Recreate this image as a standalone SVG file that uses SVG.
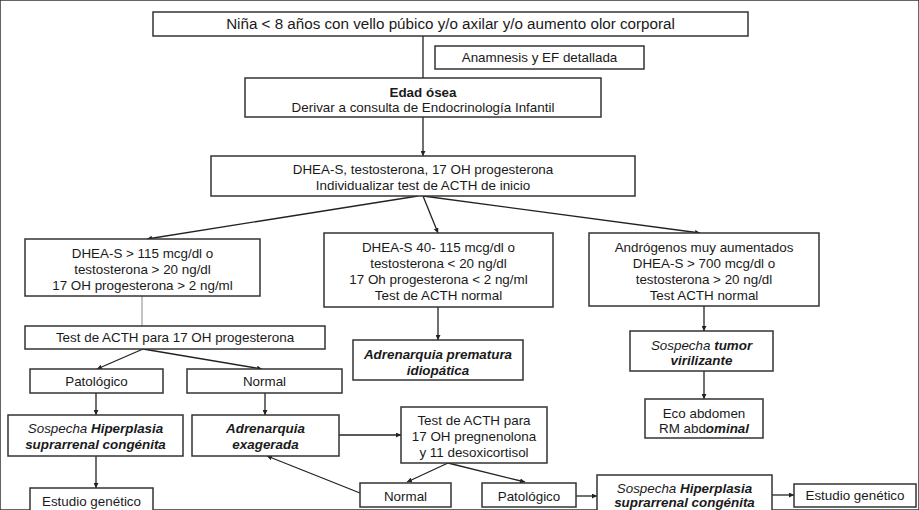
<svg xmlns="http://www.w3.org/2000/svg" width="919" height="510" viewBox="0 0 919 510">
<style>
rect{fill:#fff;stroke:#333;stroke-width:1.5}
text{font-family:"Liberation Sans",Arial,sans-serif;font-size:13.4px;fill:#1a1a1a;text-anchor:middle}
.big{font-size:15.2px}
.b{font-weight:bold}
.i{font-style:italic}
.bi{font-weight:bold;font-style:italic}
.c line{stroke:#222;stroke-width:1.3}
.c line.a{marker-end:url(#ah)}
.c line.g{stroke:#888;stroke-width:1}
</style>
<defs>
<marker id="ah" viewBox="0 0 10 10" refX="10" refY="5" markerWidth="5" markerHeight="5" markerUnits="userSpaceOnUse" orient="auto">
<path d="M0,0 L10,5 L0,10 z" fill="#222"/>
</marker>
</defs>
<rect width="919" height="510" fill="#fff" stroke="none"/>
<g class="c" id="connectors">
<line x1="423" y1="36" x2="423" y2="78"/>
<line class="a" x1="423" y1="117" x2="423" y2="156"/>
<line class="a" x1="418" y1="196" x2="147" y2="239"/>
<line class="a" x1="423" y1="196" x2="438" y2="233"/>
<line class="a" x1="423" y1="196" x2="700" y2="233"/>
<line class="g" x1="142" y1="296" x2="142" y2="326"/>
<line class="a" x1="143" y1="349" x2="97" y2="369"/>
<line class="a" x1="143" y1="349" x2="262" y2="369"/>
<line class="a" x1="96" y1="393" x2="96" y2="415"/>
<line class="a" x1="265" y1="393" x2="265" y2="415"/>
<line class="a" x1="96" y1="456" x2="96" y2="488"/>
<line class="a" x1="438" y1="307" x2="438" y2="340"/>
<line class="a" x1="704" y1="306" x2="704" y2="331"/>
<line class="a" x1="704" y1="371" x2="704" y2="399"/>
<line class="a" x1="339" y1="435" x2="401" y2="435"/>
<line class="a" x1="448" y1="463" x2="407" y2="482"/>
<line class="a" x1="448" y1="463" x2="525" y2="482"/>
<line class="a" x1="360" y1="493" x2="267" y2="456"/>
<line class="a" x1="576" y1="496" x2="597" y2="496"/>
<line class="a" x1="772" y1="495" x2="794" y2="495"/>
</g>
<g id="n-top"><rect x="153" y="12" width="595" height="24"/><text x="450.5" y="29" class="big">Niña &lt; 8 años con vello púbico y/o axilar y/o aumento olor corporal</text></g>
<g id="n-anamnesis"><rect x="435" y="46" width="209" height="23"/><text x="539.5" y="62">Anamnesis y EF detallada</text></g>
<g id="n-edad"><rect x="245" y="78" width="356" height="39"/><text x="423" y="97" class="b">Edad ósea</text><text x="423" y="112">Derivar a consulta de Endocrinología Infantil</text></g>
<g id="n-dhea"><rect x="211" y="156" width="424" height="40"/><text x="423" y="174">DHEA-S, testosterona, 17 OH progesterona</text><text x="423" y="190">Individualizar test de ACTH de inicio</text></g>
<g id="n-left"><rect x="25" y="239" width="235" height="57"/><text x="142.5" y="257.5">DHEA-S &gt; 115 mcg/dl o</text><text x="142.5" y="273.5">testosterona &gt; 20 ng/dl</text><text x="142.5" y="289.5">17 OH progesterona &gt; 2 ng/ml</text></g>
<g id="n-mid"><rect x="324" y="233" width="229" height="74"/><text x="438.5" y="252">DHEA-S 40- 115 mcg/dl o</text><text x="438.5" y="268">testosterona &lt; 20 ng/dl</text><text x="438.5" y="284">17 Oh progesterona &lt; 2 ng/ml</text><text x="438.5" y="300">Test de ACTH normal</text></g>
<g id="n-right"><rect x="589" y="233" width="230" height="73"/><text x="704" y="252">Andrógenos muy aumentados</text><text x="704" y="268">DHEA-S &gt; 700 mcg/dl o</text><text x="704" y="284">testosterona &gt; 20 ng/dl</text><text x="704" y="300">Test ACTH normal</text></g>
<g id="n-test17oh"><rect x="25" y="326" width="300" height="23"/><text x="175" y="342">Test de ACTH para 17 OH progesterona</text></g>
<g id="n-prematura"><rect x="353" y="340" width="170" height="40"/><text x="438" y="359" class="bi">Adrenarquia prematura</text><text x="438" y="375" class="bi">idiopática</text></g>
<g id="n-patol1"><rect x="30" y="369" width="133" height="24"/><text x="96.5" y="385.5">Patológico</text></g>
<g id="n-normal1"><rect x="187" y="369" width="155" height="24"/><text x="264.5" y="385.5">Normal</text></g>
<g id="n-tumor"><rect x="630" y="331" width="143" height="40"/><text x="701.5" y="349.5"><tspan class="i">Sospecha </tspan><tspan class="bi">tumor</tspan></text><text x="701.5" y="365" class="bi">virilizante</text></g>
<g id="n-eco"><rect x="645" y="399" width="118" height="39"/><text x="704" y="417.5">Eco abdomen</text><text x="704" y="432.5">RM abd<tspan class="bi">ominal</tspan></text></g>
<g id="n-hsc1"><rect x="8" y="415" width="175" height="41"/><text x="95.5" y="433"><tspan class="i">Sospecha </tspan><tspan class="bi">Hiperplasia</tspan></text><text x="95.5" y="449" class="bi">suprarrenal congénita</text></g>
<g id="n-exag"><rect x="192" y="415" width="147" height="41"/><text x="265.5" y="433" class="bi">Adrenarquia</text><text x="265.5" y="449" class="bi">exagerada</text></g>
<g id="n-test2"><rect x="401" y="407" width="146" height="56"/><text x="474" y="425">Test de ACTH para</text><text x="474" y="441">17 OH pregnenolona</text><text x="474" y="456.5">y 11 desoxicortisol</text></g>
<g id="n-gen1"><rect x="30" y="488" width="123" height="30"/><text x="91.5" y="506">Estudio genético</text></g>
<g id="n-normal2"><rect x="360" y="483" width="91" height="24"/><text x="405.5" y="500.5">Normal</text></g>
<g id="n-patol2"><rect x="482" y="483" width="94" height="24"/><text x="529" y="500.5">Patológico</text></g>
<g id="n-hsc2"><rect x="597" y="475" width="175" height="45"/><text x="684.5" y="492.5"><tspan class="i">Sospecha </tspan><tspan class="bi">Hiperplasia</tspan></text><text x="684.5" y="507" class="bi">suprarrenal congénita</text></g>
<g id="n-gen2"><rect x="794" y="484" width="122" height="23"/><text x="855" y="500">Estudio genético</text></g>
</svg>
